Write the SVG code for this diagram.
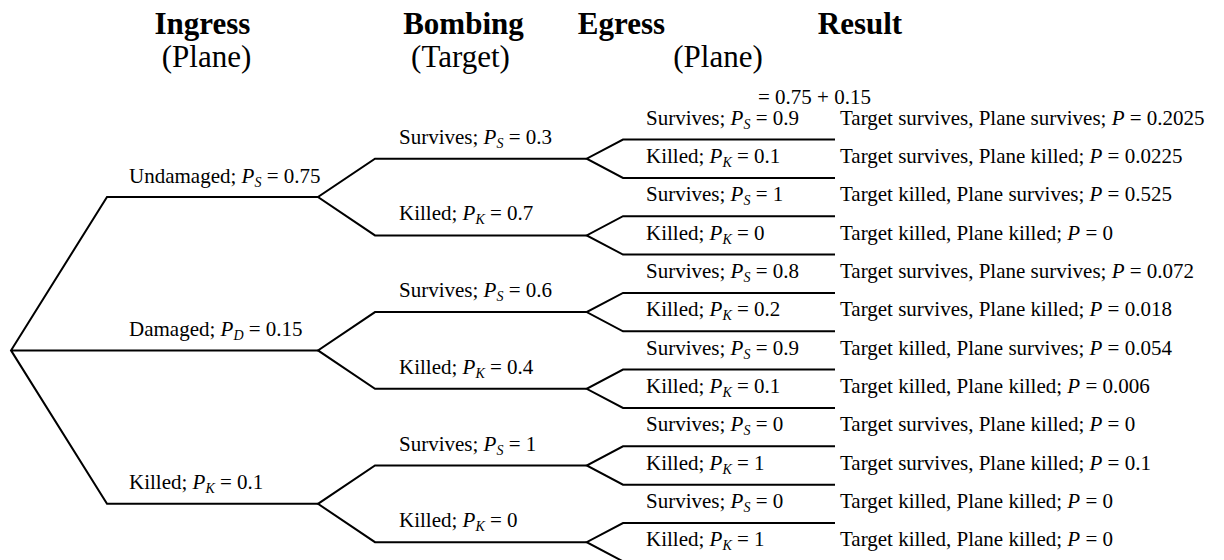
<svg xmlns="http://www.w3.org/2000/svg" width="1224" height="560" viewBox="0 0 1224 560">
<style>
text{font-family:"Liberation Serif","Times New Roman",serif;fill:#000}
.h{font-size:31px;font-weight:bold;text-anchor:middle}
.sh{font-size:31px;text-anchor:middle}
.l{font-size:21px}
.i{font-style:italic}
.s{font-style:italic;font-size:14px}
.ln{fill:none;stroke:#000;stroke-width:2;stroke-linejoin:miter}
</style>
<rect width="1224" height="560" fill="#fff"/>
<g id="headers">
<text class="h" x="202.5" y="34">Ingress</text>
<text class="sh" x="206.5" y="67">(Plane)</text>
<text class="h" x="463.5" y="34">Bombing</text>
<text class="sh" x="460.5" y="67">(Target)</text>
<text class="h" x="621.5" y="34">Egress</text>
<text class="sh" x="718" y="67">(Plane)</text>
<text class="h" x="860" y="34">Result</text>
<text class="l" x="758" y="104">= 0.75 + 0.15</text>
</g>
<g id="connectors" class="ln">
<path class="ln" d="M318,197 H107 L11,350.4 L107,503.8 H318 M11,350.4 H318"/>
<path class="ln" d="M586.7,158.7 H375 L318,197 L375,235.4 H586.7"/>
<path class="ln" d="M586.7,312.1 H375 L318,350.4 L375,388.8 H586.7"/>
<path class="ln" d="M586.7,465.5 H375 L318,503.8 L375,542.2 H586.7"/>
<path class="ln" d="M835,139.5 H623 L586.7,158.7 L623,177.9 H835"/>
<path class="ln" d="M835,216.2 H623 L586.7,235.4 L623,254.6 H835"/>
<path class="ln" d="M835,292.9 H623 L586.7,312.1 L623,331.3 H835"/>
<path class="ln" d="M835,369.6 H623 L586.7,388.8 L623,408 H835"/>
<path class="ln" d="M835,446.3 H623 L586.7,465.5 L623,484.7 H835"/>
<path class="ln" d="M835,523 H623 L586.7,542.2 L623,561.4 H835"/>
</g>
<g id="ingress">
<text class="l" x="129" y="183">Undamaged; <tspan class="i">P</tspan><tspan class="s" dy="4">S</tspan><tspan dy="-4"> = 0.75</tspan></text>
<text class="l" x="129" y="336">Damaged; <tspan class="i">P</tspan><tspan class="s" dy="4">D</tspan><tspan dy="-4"> = 0.15</tspan></text>
<text class="l" x="129" y="489">Killed; <tspan class="i">P</tspan><tspan class="s" dy="4">K</tspan><tspan dy="-4"> = 0.1</tspan></text>
</g>
<g id="bombing">
<text class="l" x="399" y="143.7">Survives; <tspan class="i">P</tspan><tspan class="s" dy="4">S</tspan><tspan dy="-4"> = 0.3</tspan></text>
<text class="l" x="399" y="220.4">Killed; <tspan class="i">P</tspan><tspan class="s" dy="4">K</tspan><tspan dy="-4"> = 0.7</tspan></text>
<text class="l" x="399" y="297.1">Survives; <tspan class="i">P</tspan><tspan class="s" dy="4">S</tspan><tspan dy="-4"> = 0.6</tspan></text>
<text class="l" x="399" y="373.8">Killed; <tspan class="i">P</tspan><tspan class="s" dy="4">K</tspan><tspan dy="-4"> = 0.4</tspan></text>
<text class="l" x="399" y="450.5">Survives; <tspan class="i">P</tspan><tspan class="s" dy="4">S</tspan><tspan dy="-4"> = 1</tspan></text>
<text class="l" x="399" y="527.2">Killed; <tspan class="i">P</tspan><tspan class="s" dy="4">K</tspan><tspan dy="-4"> = 0</tspan></text>
</g>
<g id="egress">
<text class="l" x="646" y="124.5">Survives; <tspan class="i">P</tspan><tspan class="s" dy="4">S</tspan><tspan dy="-4"> = 0.9</tspan></text>
<text class="l" x="646" y="162.9">Killed; <tspan class="i">P</tspan><tspan class="s" dy="4">K</tspan><tspan dy="-4"> = 0.1</tspan></text>
<text class="l" x="646" y="201.2">Survives; <tspan class="i">P</tspan><tspan class="s" dy="4">S</tspan><tspan dy="-4"> = 1</tspan></text>
<text class="l" x="646" y="239.6">Killed; <tspan class="i">P</tspan><tspan class="s" dy="4">K</tspan><tspan dy="-4"> = 0</tspan></text>
<text class="l" x="646" y="277.9">Survives; <tspan class="i">P</tspan><tspan class="s" dy="4">S</tspan><tspan dy="-4"> = 0.8</tspan></text>
<text class="l" x="646" y="316.3">Killed; <tspan class="i">P</tspan><tspan class="s" dy="4">K</tspan><tspan dy="-4"> = 0.2</tspan></text>
<text class="l" x="646" y="354.6">Survives; <tspan class="i">P</tspan><tspan class="s" dy="4">S</tspan><tspan dy="-4"> = 0.9</tspan></text>
<text class="l" x="646" y="393">Killed; <tspan class="i">P</tspan><tspan class="s" dy="4">K</tspan><tspan dy="-4"> = 0.1</tspan></text>
<text class="l" x="646" y="431.3">Survives; <tspan class="i">P</tspan><tspan class="s" dy="4">S</tspan><tspan dy="-4"> = 0</tspan></text>
<text class="l" x="646" y="469.7">Killed; <tspan class="i">P</tspan><tspan class="s" dy="4">K</tspan><tspan dy="-4"> = 1</tspan></text>
<text class="l" x="646" y="508">Survives; <tspan class="i">P</tspan><tspan class="s" dy="4">S</tspan><tspan dy="-4"> = 0</tspan></text>
<text class="l" x="646" y="546.4">Killed; <tspan class="i">P</tspan><tspan class="s" dy="4">K</tspan><tspan dy="-4"> = 1</tspan></text>
</g>
<g id="results">
<text class="l" x="840" y="124.5">Target survives, Plane survives; <tspan class="i">P</tspan> = 0.2025</text>
<text class="l" x="840" y="162.9">Target survives, Plane killed; <tspan class="i">P</tspan> = 0.0225</text>
<text class="l" x="840" y="201.2">Target killed, Plane survives; <tspan class="i">P</tspan> = 0.525</text>
<text class="l" x="840" y="239.6">Target killed, Plane killed; <tspan class="i">P</tspan> = 0</text>
<text class="l" x="840" y="277.9">Target survives, Plane survives; <tspan class="i">P</tspan> = 0.072</text>
<text class="l" x="840" y="316.3">Target survives, Plane killed; <tspan class="i">P</tspan> = 0.018</text>
<text class="l" x="840" y="354.6">Target killed, Plane survives; <tspan class="i">P</tspan> = 0.054</text>
<text class="l" x="840" y="393">Target killed, Plane killed; <tspan class="i">P</tspan> = 0.006</text>
<text class="l" x="840" y="431.3">Target survives, Plane killed; <tspan class="i">P</tspan> = 0</text>
<text class="l" x="840" y="469.7">Target survives, Plane killed; <tspan class="i">P</tspan> = 0.1</text>
<text class="l" x="840" y="508">Target killed, Plane killed; <tspan class="i">P</tspan> = 0</text>
<text class="l" x="840" y="546.4">Target killed, Plane killed; <tspan class="i">P</tspan> = 0</text>
</g>
</svg>
